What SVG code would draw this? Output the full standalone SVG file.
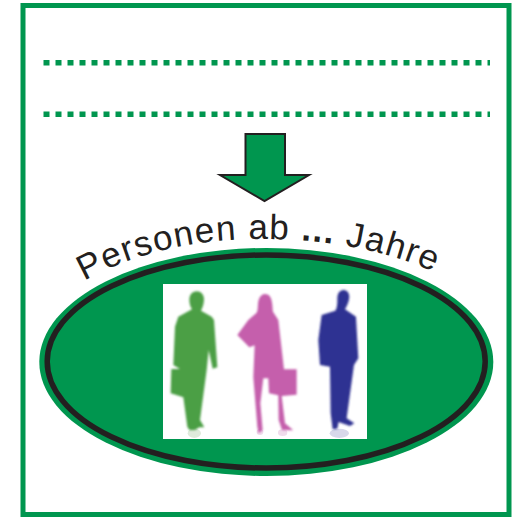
<svg xmlns="http://www.w3.org/2000/svg" width="517" height="517" viewBox="0 0 517 517">
<style>
.dots{fill:none;stroke:#00964f;stroke-width:5.500;stroke-dasharray:6 6}
.body{stroke-linejoin:round}
.lbl{font-family:"Liberation Sans",Arial,sans-serif;font-size:35px;fill:#231f20;letter-spacing:1.300px}
</style>
<defs>
<path id="curve" d="M84 281C140 250 200 239 262 239C320 239 385 248 445 277"/>
<filter id="soft" x="-10%" y="-10%" width="120%" height="120%"><feGaussianBlur stdDeviation="2.500"/></filter>
</defs>
<rect width="517" height="517" fill="#fff"/>
<g id="frame"><rect x="23" y="5.500" width="486" height="509" fill="none" stroke="#00964f" stroke-width="5"/></g>
<g id="connectors">
<path class="dots" d="M43.500 62.800H490"/>
<path class="dots" d="M43.500 114.300H490"/>
</g>
<g id="arrow"><path d="M245.500 134H285V175H309L264.500 201L220 175H245.500Z" fill="#00964f" stroke="#231f20" stroke-width="2"/></g>
<g id="label"><text class="lbl"><textPath href="#curve">Personen ab <tspan font-weight="bold">...</tspan> Jahre</textPath></text></g>
<g id="ellipse">
<ellipse cx="266.300" cy="362" rx="227" ry="114" fill="#00964f"/>
<ellipse cx="266.200" cy="361.500" rx="219" ry="106.500" fill="none" stroke="#231f20" stroke-width="5.500"/>
</g>
<g id="photo">
<rect x="163" y="284" width="204" height="155" fill="#fff"/>
<g transform="translate(150 270) scale(0.3333)">
<ellipse cx="133" cy="490" rx="20" ry="14" fill="#dfeadc"/>
<ellipse cx="330" cy="486" rx="10" ry="9" fill="#f0dcec"/>
<ellipse cx="398" cy="488" rx="14" ry="10" fill="#f0dcec"/>
<ellipse cx="568" cy="490" rx="29" ry="14" fill="#d8d8ea"/>
<g filter="url(#soft)">
<path class="body" fill="#4b9f45" d="M140 64C126 64 118 76 118 90C118 102 122 112 126 118L85 140L75 170L70 285L90 297H64L62 370L100 382L112 470L118 480H135L148 472H163L150 450L170 300L176 240L188 296L202 292L192 150L185 140L153 122C158 112 162 100 162 88C162 74 153 64 140 64Z"/>
<path class="body" fill="#c55fac" d="M345 72C331 72 325 88 324 102C323 114 324 120 320 128L295 150L262 195L298 232L314 226L310 322L318 420L322 470L326 490L338 480L331 400L340 325H355L357 370L385 376L386 450L396 480L430 481L405 460L395 378L440 374V298H402L385 150L369 125C367 105 368 72 345 72Z"/>
<path class="body" fill="#2e3192" d="M580 60C567 62 562 72 562 86C562 100 562 112 556 122L515 135L505 210L510 285L540 290L542 430L548 478L562 476L566 456L600 468L613 460L590 445L612 285L625 265L618 140L585 118C592 106 598 92 598 80C598 68 590 60 580 60Z"/>
</g>
</g>
</g>
</svg>
